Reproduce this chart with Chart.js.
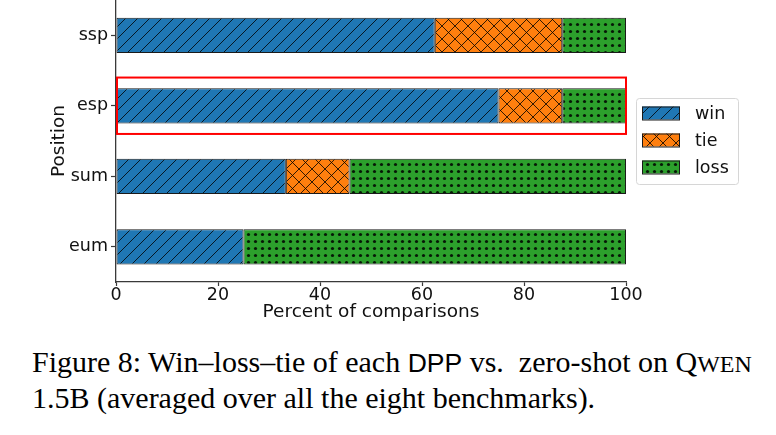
<!DOCTYPE html>
<html>
<head>
<meta charset="utf-8">
<script src="https://cdn.jsdelivr.net/npm/chart.js@4.4.1/dist/chart.umd.min.js"></script>
<style>
  html, body { margin: 0; padding: 0; background: #fff; }
  #wrap { position: relative; width: 776px; height: 435px; overflow: hidden; }
  #box { position: absolute; left: 0; top: 0; width: 776px; height: 330px; }
  #cap { position: absolute; left: 32px; top: 345px; font-family: 'Liberation Serif', 'Times New Roman', serif;
         font-size: 30px; line-height: 34px; color: #000; white-space: nowrap; }
  #cap .sf { font-family: 'Liberation Sans', Arial, sans-serif; font-size: 26.5px; }
  #cap .sc { font-size: 24px; }
</style>
</head>
<body>
<div id="wrap">
  <div id="box"><canvas id="c" width="776" height="330"></canvas></div>
  <div id="cap">Figure 8: Win–loss–tie of each <span class="sf">DPP</span> vs.&nbsp; zero-shot on Q<span class="sc">WEN</span><br>1.5B (averaged over all the eight benchmarks).</div>
</div>
<script>
const positions = ['ssp', 'esp', 'sum', 'eum'];
const winPct  = [62.5, 75.0, 33.3, 25.0];
const tiePct  = [25.0, 12.5, 12.5, 0];
const lossPct = [12.5, 12.5, 54.2, 75.0];
const xTicks = [0, 20, 40, 60, 80, 100];
const highlighted = 'esp';

const FONT = { family: 'DejaVu Sans', size: 17.5 };
const TITLE_FONT = { family: 'DejaVu Sans', size: 18.5 };

// hatch tiles, like matplotlib's '//', 'xx' and 'oo'
function hatch(color, kind) {
  const s = kind === 'dot' ? 7 : (kind === 'cross' ? 13 : 12);
  const t = document.createElement('canvas');
  t.width = s; t.height = s;
  const g = t.getContext('2d');
  g.fillStyle = color;
  g.fillRect(0, 0, s, s);
  g.strokeStyle = 'rgba(0,0,0,0.8)';
  g.fillStyle = 'rgba(0,0,0,0.85)';
  g.lineWidth = 1;
  if (kind === 'dot') {
    g.beginPath();
    g.arc(s / 2, s / 2, 1.6, 0, Math.PI * 2);
    g.fill();
  } else {
    g.beginPath();
    g.moveTo(-1, 1); g.lineTo(1, -1);
    g.moveTo(0, s); g.lineTo(s, 0);
    g.moveTo(s - 1, s + 1); g.lineTo(s + 1, s - 1);
    if (kind === 'cross') {
      g.moveTo(-1, s - 1); g.lineTo(1, s + 1);
      g.moveTo(0, 0); g.lineTo(s, s);
      g.moveTo(s - 1, -1); g.lineTo(s + 1, 1);
    }
    g.stroke();
  }
  return g.createPattern(t, 'repeat');
}

const ctx = document.getElementById('c').getContext('2d');
const series = [
  { label: 'win',  data: winPct,  backgroundColor: hatch('#1f77b4', 'slash') },
  { label: 'tie',  data: tiePct,  backgroundColor: hatch('#ff7f0e', 'cross') },
  { label: 'loss', data: lossPct, backgroundColor: hatch('#2ca02c', 'dot') },
];

// red box round the highlighted row
const highlightBox = {
  id: 'highlightBox',
  afterDatasetsDraw(chart) {
    const { ctx, scales: { x, y } } = chart;
    const i = positions.indexOf(highlighted);
    const step = y.getPixelForValue(1) - y.getPixelForValue(0);
    const cy = y.getPixelForValue(i);
    const x0 = x.getPixelForValue(0), x1 = x.getPixelForValue(100);
    ctx.save();
    ctx.strokeStyle = '#ff0000';
    ctx.lineWidth = 2;
    ctx.strokeRect(x0 + 1, cy - 0.4 * step, x1 - x0 - 1, 0.8 * step);
    ctx.restore();
  }
};

// matplotlib-style framed legend to the right of the axes
const boxLegend = {
  id: 'boxLegend',
  afterDraw(chart) {
    const { ctx, chartArea } = chart;
    const w = 102, h = 86, rowH = 27;
    const left = chartArea.right + 10;
    const top = (chartArea.top + chartArea.bottom) / 2 - h / 2;
    ctx.save();
    ctx.beginPath();
    ctx.roundRect(left + 0.5, top + 0.5, w, h, 3);
    ctx.fillStyle = 'rgba(255,255,255,0.8)';
    ctx.fill();
    ctx.strokeStyle = '#d6d6d6';
    ctx.lineWidth = 1;
    ctx.stroke();
    ctx.font = `${FONT.size}px ${FONT.family}`;
    ctx.textBaseline = 'middle';
    chart.data.datasets.forEach((ds, i) => {
      const cy = top + 15 + i * rowH;
      ctx.fillStyle = ds.backgroundColor;
      ctx.fillRect(left + 6, cy - 6.5, 38, 13);
      ctx.strokeStyle = '#1a1a1a';
      ctx.strokeRect(left + 6.5, cy - 6, 37, 13);
      ctx.fillStyle = '#111';
      ctx.fillText(ds.label, left + 59, cy + 1);
    });
    ctx.restore();
  }
};

new Chart(ctx, {
  type: 'bar',
  data: {
    labels: positions,
    datasets: series.map(s => ({
      ...s,
      borderColor: '#1a1a1a',
      borderWidth: 1,
      borderSkipped: false,
      categoryPercentage: 1,
      barPercentage: 0.5,
    }))
  },
  options: {
    indexAxis: 'y',
    responsive: false,
    animation: false,
    layout: { padding: { left: 48, right: 150, top: 0, bottom: 6.5 } },
    plugins: { legend: { display: false }, tooltip: { enabled: false } },
    scales: {
      x: {
        stacked: true,
        min: 0, max: 100,
        afterBuildTicks: s => { s.ticks = xTicks.map(v => ({ value: v })); },
        afterFit: s => { s.height = 41.5; s.paddingLeft = 0; s.paddingRight = 0; },
        ticks: { color: '#111', font: FONT, padding: -1, maxRotation: 0 },
        grid: { drawOnChartArea: false, tickLength: 4, tickColor: '#3a3a3a', tickWidth: 1.2 },
        border: { color: '#3a3a3a', width: 1.3 },
        title: { display: true, text: 'Percent of comparisons', color: '#111', font: TITLE_FONT, padding: { top: 0, bottom: 0 } }
      },
      y: {
        stacked: true,
        afterFit: s => { s.width = 68; s.paddingTop = 0; s.paddingBottom = 0; },
        ticks: { color: '#111', font: FONT, padding: 3 },
        grid: { offset: false, drawOnChartArea: false, tickLength: 5, tickColor: '#3a3a3a', tickWidth: 1.2 },
        border: { color: '#3a3a3a', width: 1.3 },
        title: { display: true, text: 'Position', color: '#111', font: TITLE_FONT, padding: { top: 0, bottom: 0 } }
      }
    }
  },
  plugins: [highlightBox, boxLegend]
});
</script>
</body>
</html>
